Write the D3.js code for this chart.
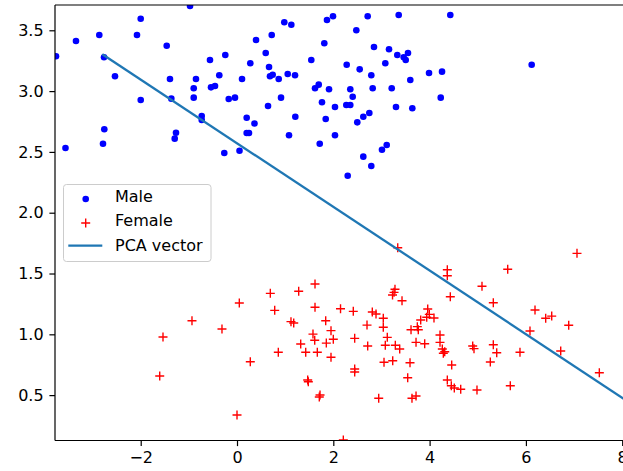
<!DOCTYPE html>
<html>
<head>
<meta charset="utf-8">
<script src="https://cdn.jsdelivr.net/npm/d3@7"></script>
<style>
  html, body { margin: 0; padding: 0; background: #fff; }
  svg { display: block; font-family: "DejaVu Sans", sans-serif; }
</style>
</head>
<body>
<svg id="chart" width="623" height="471"></svg>
<script>
// ---- data ----
const maleX = [-0.976,-2.000,-2.860,-2.077,-3.344,-1.460,0.395,-3.759,-2.762,-0.561,-0.243,0.276,-2.534,-1.392,-0.852,-0.368,0.104,-0.899,-0.540,-0.457,-2.000,-1.364,-0.899,-0.172,-0.042,-0.733,-0.733,0.201,0.363,-2.756,-1.267,-1.294,0.201,0.249,-3.562,-2.783,-0.264,0.052,
  0.982,1.128,1.869,1.994,2.714,3.358,4.430,0.721,2.478,1.813,0.596,2.845,3.157,3.329,3.462,3.551,3.504,0.665,1.543,2.278,2.548,3.080,0.685,0.741,0.866,1.053,1.205,2.789,3.988,4.258,3.599,1.620,1.697,1.911,2.353,2.818,3.213,2.403,0.914,0.644,1.765,2.035,2.270,2.353,3.302,3.641,4.231,1.211,1.842,2.498,2.623,2.748,1.080,2.035,1.718,3.011,3.109,2.623,2.789,2.299,6.120];
const maleY = [3.700,3.595,3.461,3.461,3.412,3.373,3.420,3.286,3.278,3.256,3.297,3.229,3.122,3.100,3.100,3.130,3.100,3.023,3.031,3.042,2.927,2.938,2.946,2.935,2.946,2.795,2.762,2.781,2.734,2.686,2.658,2.609,2.655,2.655,2.532,2.567,2.491,2.510,
  3.566,3.546,3.585,3.615,3.615,3.626,3.626,3.461,3.500,3.393,3.313,3.363,3.344,3.297,3.278,3.313,3.256,3.198,3.256,3.217,3.179,3.229,3.122,3.135,3.100,3.141,3.130,3.130,3.149,3.160,3.091,3.023,3.053,3.015,3.015,3.023,3.023,2.954,2.946,2.877,2.908,2.869,2.886,2.886,2.869,2.859,2.946,2.789,2.771,2.743,2.789,2.820,2.637,2.637,2.567,2.518,2.557,2.461,2.384,2.304,3.217];

const femaleX = [-1.537,-1.605,-0.935,-0.312,0.048,0.000,0.276,0.692,0.783,0.858,1.121,1.178,1.281,1.620,1.620,1.323,1.427,1.468,1.481,1.724,1.709,1.578,1.614,1.668,1.842,1.952,1.855,2.000,1.952,2.150,
  3.338,4.368,4.368,5.622,5.088,4.430,5.323,3.281,3.261,3.230,3.427,2.415,2.810,2.887,3.038,2.700,3.038,3.961,3.994,3.940,4.091,3.815,3.745,3.765,3.614,2.444,2.714,3.121,3.080,3.288,3.379,3.718,3.898,4.216,4.216,4.264,4.314,4.285,4.895,4.922,5.323,5.394,5.877,6.085,3.053,3.234,3.593,4.459,5.261,2.444,2.444,3.545,4.368,4.451,4.513,4.646,4.984,5.676,2.943,3.634,3.718,
  7.061,6.189,6.411,6.536,6.889,6.723,7.525,2.208];
const femaleY = [0.978,0.657,1.112,1.044,1.257,0.337,0.775,1.337,1.197,0.852,1.104,1.093,1.354,1.414,1.222,0.920,0.852,0.624,0.610,0.501,0.484,1.002,0.951,0.852,1.112,1.030,0.928,0.959,0.811,1.210,
  1.712,1.531,1.482,1.535,1.395,1.309,1.260,1.370,1.345,1.323,1.276,1.189,1.183,1.167,1.132,1.076,1.058,1.208,1.164,1.140,1.134,1.118,1.063,1.038,1.038,0.967,0.904,0.975,0.910,0.910,0.879,0.934,0.923,0.994,0.934,0.879,0.857,0.844,0.904,0.882,0.914,0.849,0.852,1.027,0.770,0.783,0.766,0.748,0.772,0.715,0.690,0.643,0.624,0.577,0.558,0.548,0.542,0.577,0.474,0.474,0.493,
  1.666,1.200,1.132,1.150,1.074,0.863,0.684,0.131];

const pcaX = [-2.797, 8.3];
const pcaY = [3.303, 0.400];

const xTicks = [-2, 0, 2, 4, 6, 8];
const yTicks = [0.5, 1.0, 1.5, 2.0, 2.5, 3.0, 3.5];
const legendLabels = ["Male", "Female", "PCA vector"];

// ---- layout ----
const svg = d3.select("#chart");
const mLeft = 55, mTop = 5, mBottom = 440.5, mRight = 625;
const x = d3.scaleLinear().domain([-3.78, 8.058]).range([mLeft, mRight]);
const y = d3.scaleLinear().domain([0.131, 3.708]).range([440, mTop]);
const fontSize = "16px";
const dotR = 3.3, plusH = 4.5;

svg.append("defs").append("clipPath").attr("id", "clip")
  .append("rect").attr("x", mLeft).attr("y", mTop).attr("width", mRight - mLeft).attr("height", mBottom - mTop);

const plot = svg.append("g").attr("clip-path", "url(#clip)");

// male dots
plot.append("g").selectAll("circle")
  .data(maleX.map((v, i) => [v, maleY[i]]))
  .join("circle")
  .attr("cx", d => x(d[0])).attr("cy", d => y(d[1]))
  .attr("r", dotR).attr("fill", "#0000ff");

// female pluses
const plusPath = d => {
  const cx = x(d[0]), cy = y(d[1]);
  return `M${cx - plusH},${cy}H${cx + plusH}M${cx},${cy - plusH}V${cy + plusH}`;
};
plot.append("g").selectAll("path")
  .data(femaleX.map((v, i) => [v, femaleY[i]]))
  .join("path")
  .attr("d", plusPath)
  .attr("stroke", "#ff0000").attr("stroke-width", 1.4).attr("fill", "none");

// PCA line
plot.append("path")
  .datum(pcaX.map((v, i) => [v, pcaY[i]]))
  .attr("d", d3.line().x(d => x(d[0])).y(d => y(d[1])))
  .attr("stroke", "#1f77b4").attr("stroke-width", 2.3).attr("fill", "none");

// axes
const xAxis = d3.axisBottom(x).tickValues(xTicks).tickSize(5.6).tickPadding(5.4)
  .tickFormat(d => (d < 0 ? "\u2212" + Math.abs(d) : String(d)));
const yAxis = d3.axisLeft(y).tickValues(yTicks).tickSize(5.6).tickPadding(5.8)
  .tickFormat(d3.format(".1f"));

const gx = svg.append("g").attr("transform", `translate(0,${mBottom})`).call(xAxis);
const gy = svg.append("g").attr("transform", `translate(${mLeft},0)`).call(yAxis);
[gx, gy].forEach(g => {
  g.select(".domain").remove();
  g.selectAll(".tick line").attr("stroke", "#000").attr("stroke-width", 1.2);
  g.selectAll(".tick text").attr("fill", "#000").style("font-size", fontSize)
    .style("font-family", "'DejaVu Sans', sans-serif");
});

// spines
svg.append("g").attr("fill", "none").attr("stroke", "#000").attr("stroke-width", 1.2)
  .call(g => {
    g.append("line").attr("x1", mLeft).attr("x2", mLeft).attr("y1", mTop).attr("y2", mBottom);
    g.append("line").attr("x1", mLeft).attr("x2", mRight).attr("y1", mBottom).attr("y2", mBottom);
    g.append("line").attr("x1", mLeft).attr("x2", mRight).attr("y1", mTop).attr("y2", mTop);
  });

// legend
const lg = svg.append("g");
lg.append("rect").attr("x", 63.5).attr("y", 184.5).attr("width", 147.5).attr("height", 77)
  .attr("rx", 3).attr("fill", "#fff").attr("fill-opacity", 0.8)
  .attr("stroke", "#cccccc").attr("stroke-width", 1);
const rowY = [196, 220.7, 245.5];
const mx = 85.7;
lg.append("circle").attr("cx", mx).attr("cy", 199).attr("r", dotR).attr("fill", "#0000ff");
lg.append("path").attr("d", `M${mx - plusH},223H${mx + plusH}M${mx},${223 - plusH}V${223 + plusH}`)
  .attr("stroke", "#ff0000").attr("stroke-width", 1.4);
lg.append("line").attr("x1", 68.3).attr("x2", 102.3).attr("y1", 245.7).attr("y2", 245.7)
  .attr("stroke", "#1f77b4").attr("stroke-width", 2.3);
lg.selectAll("text.lbl").data(legendLabels).join("text")
  .attr("class", "lbl")
  .attr("x", 115).attr("y", (d, i) => rowY[i])
  .attr("dy", "0.36em")
  .style("font-size", fontSize).attr("fill", "#000")
  .text(d => d);
</script>
</body>
</html>
